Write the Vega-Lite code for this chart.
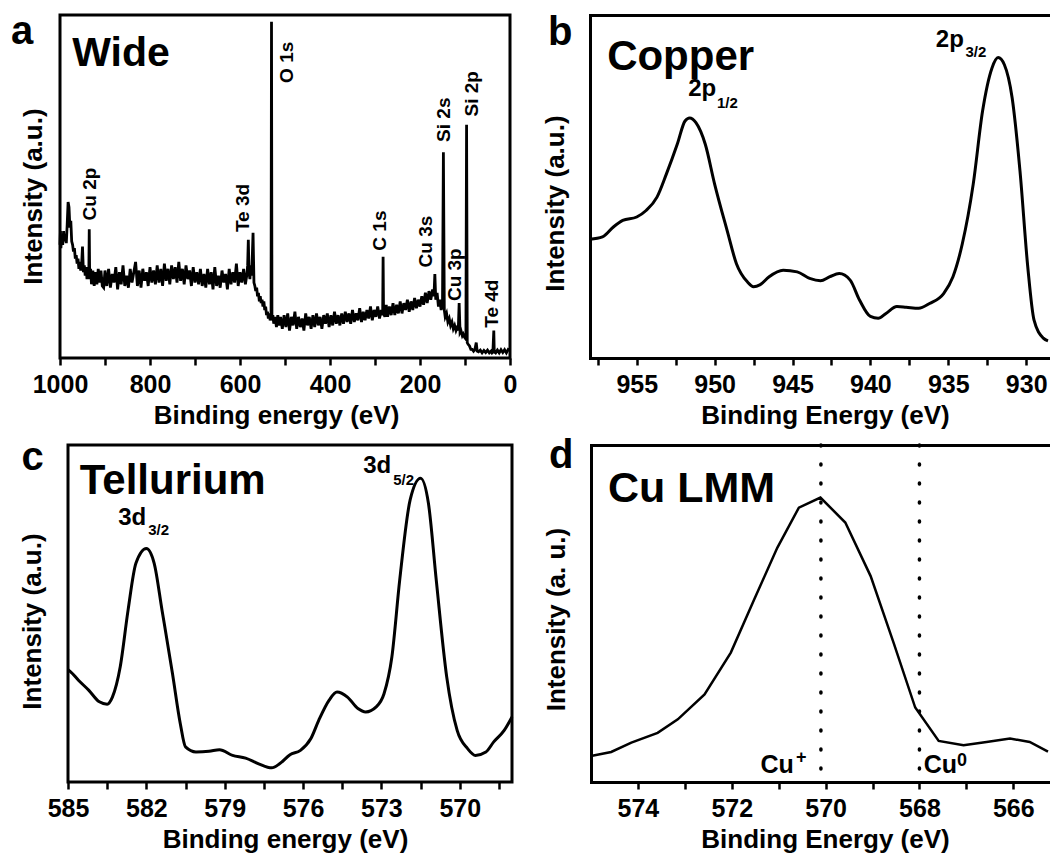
{
"$schema": "https://vega.github.io/schema/vega-lite/v6.json",
"padding": {"left": 9, "top": 10, "right": 0, "bottom": 0},
"background": "white",
"config": {
 "font": "Liberation Sans",
 "view": {"stroke": "black", "strokeWidth": 3},
 "axis": {"grid": false, "labelFont": "Liberation Sans", "labelFontSize": 25, "labelFontWeight": "bold", "labelColor": "black", "labelFlush": false, "labelOverlap": false, "labelPadding": 7, "titleFont": "Liberation Sans", "titleFontSize": 26, "titleFontWeight": "bold", "titleColor": "black", "titlePadding": 5, "tickColor": "black", "tickWidth": 2.5, "tickSize": 7, "domainColor": "black", "domainWidth": 3, "domainCap": "square"},
 "title": {"font": "Liberation Sans", "fontSize": 40, "fontWeight": "bold", "color": "black", "anchor": "start", "frame": "group", "baseline": "alphabetic", "offset": 0}
},
"bounds": "flush",
"spacing": 430,
"vconcat": [
 {"bounds": "flush", "spacing": 80, "hconcat": [
  {"width": 450, "height": 343,
   "title": {"text": "a", "dx": -49, "dy": 41},
   "layer": [
    {"data": {"values": [
{"e":1000,"i":33},{"e":999,"i":37},{"e":998,"i":32},{"e":996,"i":36},{"e":994,"i":33},{"e":992,"i":37},{"e":990,"i":34},{"e":988,"i":36},{"e":986,"i":33.5},{"e":984,"i":39},{"e":982,"i":45.5},{"e":980,"i":44},{"e":978,"i":38},{"e":976,"i":40},{"e":974,"i":34},{"e":972,"i":33},{"e":970,"i":31},{"e":968,"i":32},{"e":966,"i":29},{"e":964,"i":30},{"e":962,"i":27.5},{"e":960,"i":29},{"e":958,"i":26},{"e":956,"i":28},{"e":954,"i":25.5},{"e":952,"i":27},{"e":950,"i":32.5},{"e":948,"i":25},{"e":946,"i":27},{"e":944,"i":24},{"e":942,"i":26.5},{"e":940,"i":23},{"e":938,"i":26},{"e":936,"i":24},{"e":935,"i":37.5},{"e":934,"i":23},{"e":932,"i":26},{"e":930,"i":21.5},{"e":927,"i":25.5},{"e":924,"i":21},{"e":921,"i":25},{"e":918,"i":21.5},{"e":915,"i":26},{"e":912,"i":22},{"e":909,"i":25.5},{"e":906,"i":21},{"e":903,"i":20.5},{"e":900,"i":25.5},{"e":896,"i":21},{"e":892,"i":26},{"e":888,"i":20.5},{"e":884,"i":24.5},{"e":880,"i":22},{"e":876,"i":26.5},{"e":872,"i":20},{"e":868,"i":25},{"e":864,"i":21.5},{"e":860,"i":27},{"e":856,"i":21},{"e":852,"i":24},{"e":848,"i":20.5},{"e":844,"i":26},{"e":840,"i":22},{"e":836,"i":25},{"e":832,"i":28},{"e":828,"i":21},{"e":824,"i":25.5},{"e":820,"i":20.5},{"e":816,"i":26},{"e":812,"i":22.5},{"e":808,"i":25},{"e":804,"i":21},{"e":800,"i":26.5},{"e":796,"i":22},{"e":792,"i":25.5},{"e":788,"i":21.5},{"e":784,"i":27},{"e":780,"i":22},{"e":776,"i":26},{"e":772,"i":21},{"e":768,"i":27.5},{"e":764,"i":22.5},{"e":760,"i":26},{"e":756,"i":21.5},{"e":752,"i":27},{"e":748,"i":23},{"e":744,"i":26.5},{"e":740,"i":22},{"e":736,"i":28},{"e":732,"i":22.5},{"e":728,"i":26},{"e":724,"i":21.5},{"e":720,"i":27},{"e":716,"i":23},{"e":712,"i":25.5},{"e":708,"i":21},{"e":704,"i":26.5},{"e":700,"i":22},{"e":696,"i":25},{"e":692,"i":21.5},{"e":688,"i":26},{"e":684,"i":21},{"e":680,"i":24.5},{"e":676,"i":20.5},{"e":672,"i":26},{"e":668,"i":21.5},{"e":664,"i":25},{"e":660,"i":20},{"e":656,"i":26.5},{"e":652,"i":21},{"e":648,"i":24},{"e":644,"i":20.5},{"e":640,"i":25.5},{"e":636,"i":22},{"e":632,"i":24.5},{"e":628,"i":20},{"e":624,"i":26},{"e":620,"i":21.5},{"e":616,"i":25},{"e":612,"i":22},{"e":608,"i":27.5},{"e":604,"i":21},{"e":600,"i":25},{"e":596,"i":22},{"e":592,"i":26},{"e":588,"i":21.5},{"e":585,"i":24},{"e":583,"i":27},{"e":581.5,"i":34.5},{"e":580,"i":25},{"e":578,"i":23},{"e":576,"i":27},{"e":574,"i":24},{"e":571,"i":36.5},{"e":569,"i":22},{"e":567,"i":21},{"e":565,"i":19.5},{"e":563,"i":20.5},{"e":561,"i":18},{"e":559,"i":19},{"e":557,"i":16.5},{"e":555,"i":18},{"e":553,"i":16},{"e":551,"i":17},{"e":549,"i":15},{"e":547,"i":16.5},{"e":545,"i":14},{"e":543,"i":15},{"e":541,"i":12.5},{"e":539,"i":13.5},{"e":537,"i":11.5},{"e":535,"i":13},{"e":533,"i":11},{"e":531,"i":12},{"e":530,"i":98},{"e":529,"i":11},{"e":527,"i":12.5},{"e":525,"i":10},{"e":522,"i":12},{"e":519,"i":9},{"e":516,"i":12.5},{"e":513,"i":9.5},{"e":510,"i":12},{"e":506,"i":8.5},{"e":502,"i":12.5},{"e":498,"i":9},{"e":494,"i":13},{"e":490,"i":8},{"e":486,"i":12},{"e":482,"i":9.5},{"e":478,"i":13.5},{"e":474,"i":8.5},{"e":470,"i":12},{"e":466,"i":9},{"e":462,"i":11.5},{"e":458,"i":8},{"e":454,"i":13},{"e":450,"i":9.5},{"e":446,"i":12},{"e":442,"i":8.5},{"e":438,"i":12.5},{"e":434,"i":9},{"e":430,"i":13},{"e":426,"i":9.5},{"e":422,"i":12},{"e":418,"i":8.5},{"e":414,"i":12.5},{"e":410,"i":10},{"e":406,"i":13},{"e":402,"i":9},{"e":398,"i":12.5},{"e":394,"i":9.5},{"e":390,"i":13.5},{"e":386,"i":10},{"e":382,"i":12.5},{"e":378,"i":9.5},{"e":374,"i":13},{"e":370,"i":10},{"e":366,"i":13.5},{"e":362,"i":10.5},{"e":358,"i":13},{"e":354,"i":10},{"e":350,"i":14},{"e":346,"i":10.5},{"e":342,"i":13},{"e":338,"i":11},{"e":334,"i":14.5},{"e":330,"i":10.5},{"e":326,"i":13.5},{"e":322,"i":11},{"e":318,"i":14},{"e":314,"i":11.5},{"e":310,"i":15},{"e":306,"i":11},{"e":302,"i":14},{"e":298,"i":12},{"e":294,"i":15},{"e":290,"i":11.5},{"e":286,"i":14},{"e":283,"i":12.5},{"e":282,"i":29.5},{"e":281,"i":13},{"e":278,"i":12},{"e":275,"i":15.5},{"e":272,"i":12},{"e":268,"i":15},{"e":264,"i":12.5},{"e":260,"i":16},{"e":256,"i":12.5},{"e":252,"i":15.5},{"e":248,"i":13},{"e":244,"i":16.5},{"e":240,"i":13},{"e":236,"i":16},{"e":232,"i":14},{"e":228,"i":17},{"e":224,"i":13.5},{"e":220,"i":16.5},{"e":216,"i":14},{"e":212,"i":17.5},{"e":208,"i":14.5},{"e":204,"i":17},{"e":200,"i":15},{"e":196,"i":18},{"e":192,"i":15.5},{"e":188,"i":19},{"e":184,"i":16},{"e":180,"i":19.5},{"e":176,"i":17},{"e":172,"i":20},{"e":169,"i":18},{"e":167,"i":24.5},{"e":165,"i":17},{"e":162,"i":19},{"e":159,"i":15},{"e":156,"i":17},{"e":153,"i":14},{"e":150,"i":15.5},{"e":148,"i":60},{"e":146,"i":14},{"e":144,"i":12},{"e":141,"i":13},{"e":138,"i":10.5},{"e":135,"i":11.5},{"e":132,"i":9.5},{"e":129,"i":10.5},{"e":126,"i":8.5},{"e":123,"i":9.5},{"e":120,"i":8},{"e":117,"i":9},{"e":115,"i":8},{"e":113,"i":16},{"e":111,"i":7.5},{"e":109,"i":8},{"e":106,"i":6.5},{"e":104,"i":7},{"e":101,"i":6},{"e":98,"i":5.5},{"e":96.5,"i":68},{"e":95,"i":4.5},{"e":93,"i":4},{"e":90,"i":3.5},{"e":87,"i":2.5},{"e":84,"i":2.5},{"e":81,"i":2},{"e":78,"i":2.5},{"e":75,"i":4.5},{"e":73,"i":2},{"e":70,"i":1.8},{"e":66,"i":2.3},{"e":62,"i":1.5},{"e":58,"i":2.2},{"e":54,"i":1.6},{"e":50,"i":2.3},{"e":46,"i":1.5},{"e":42,"i":2},{"e":40,"i":1.5},{"e":38,"i":1.8},{"e":36,"i":8},{"e":35,"i":1.8},{"e":32,"i":1.5},{"e":28,"i":2.3},{"e":24,"i":1.5},{"e":20,"i":2.4},{"e":16,"i":1.6},{"e":12,"i":2.4},{"e":8,"i":1.5},{"e":4,"i":2.5},{"e":0,"i":2.2}
    ]},
     "mark": {"type": "line", "color": "black", "strokeWidth": 2.8},
     "encoding": {
      "x": {"field": "e", "type": "quantitative", "scale": {"domain": [0, 1000], "reverse": true, "nice": false, "zero": false},
            "axis": {"title": "Binding energy (eV)", "domain": false, "values": [0,100,200,300,400,500,600,700,800,900,1000], "labelExpr": "datum.value % 200 === 0 ? datum.label : ''", "format": "d", "titleX": 216}},
      "y": {"field": "i", "type": "quantitative", "scale": {"domain": [0, 100], "nice": false, "zero": false},
            "axis": {"title": "Intensity (a.u.)", "labels": false, "ticks": false, "domain": false, "titlePadding": 14, "titleY": 181}}
     }},
    {"data": {"values": [{"e": 973, "i": 85, "t": "Wide"}]},
     "mark": {"type": "text", "fontSize": 41, "fontWeight": "bold", "align": "left", "baseline": "alphabetic", "color": "black"},
     "encoding": {"x": {"field": "e", "type": "quantitative"}, "y": {"field": "i", "type": "quantitative"}, "text": {"field": "t"}}},
    {"data": {"values": [
      {"e": 933.3, "i": 40.1, "t": "Cu 2p"},
      {"e": 592.6, "i": 36.7, "t": "Te 3d"},
      {"e": 496.3, "i": 80.2, "t": "O 1s"},
      {"e": 288.9, "i": 31.3, "t": "C 1s"},
      {"e": 185.9, "i": 26.4, "t": "Cu 3s"},
      {"e": 146.7, "i": 63.0, "t": "Si 2s"},
      {"e": 122.2, "i": 16.6, "t": "Cu 3p"},
      {"e": 83.7, "i": 70.4, "t": "Si 2p"},
      {"e": 39.3, "i": 8.8, "t": "Te 4d"}
     ]},
     "mark": {"type": "text", "angle": 270, "fontSize": 19, "fontWeight": "bold", "align": "left", "baseline": "middle", "color": "black"},
     "encoding": {"x": {"field": "e", "type": "quantitative"}, "y": {"field": "i", "type": "quantitative"}, "text": {"field": "t"}}}
   ]},
  {"width": 458, "height": 343,
   "view": {"stroke": null},
   "title": {"text": "b", "dx": -42, "dy": 42},
   "resolve": {"axis": {"x": "independent"}},
   "layer": [
    {"data": {"values": [
{"e":958.0,"i":34.6},{"e":957.2,"i":35.3},{"e":956.5,"i":38.2},{"e":955.9,"i":40.1},{"e":955.0,"i":41.1},{"e":954.4,"i":43.0},{"e":953.7,"i":46.9},{"e":953.1,"i":53.6},{"e":952.4,"i":62.3},{"e":951.9,"i":69.1},{"e":951.6,"i":70.0},{"e":951.2,"i":68.6},{"e":950.6,"i":62.3},{"e":950.0,"i":50.7},{"e":949.2,"i":37.2},{"e":948.6,"i":27.5},{"e":947.9,"i":22.2},{"e":947.5,"i":20.8},{"e":947.1,"i":21.3},{"e":946.5,"i":23.7},{"e":945.6,"i":25.6},{"e":944.7,"i":25.1},{"e":943.9,"i":23.2},{"e":943.2,"i":22.5},{"e":942.6,"i":23.7},{"e":942.0,"i":24.6},{"e":941.3,"i":22.7},{"e":940.7,"i":16.9},{"e":940.0,"i":12.1},{"e":939.5,"i":11.6},{"e":939.0,"i":13.0},{"e":938.3,"i":15.0},{"e":937.7,"i":14.8},{"e":936.9,"i":14.5},{"e":936.2,"i":15.9},{"e":935.3,"i":18.8},{"e":934.7,"i":23.7},{"e":934.1,"i":33.3},{"e":933.4,"i":50.7},{"e":932.8,"i":72.0},{"e":932.2,"i":84.5},{"e":931.8,"i":87.6},{"e":931.4,"i":85.5},{"e":930.9,"i":75.8},{"e":930.4,"i":54.6},{"e":929.9,"i":26.6},{"e":929.5,"i":11.1},{"e":928.9,"i":5.8},{"e":928.6,"i":5.0}
    ]},
     "mark": {"type": "line", "color": "black", "strokeWidth": 3, "interpolate": "monotone"},
     "encoding": {
      "x": {"field": "e", "type": "quantitative", "scale": {"domain": [928.6, 958], "reverse": true, "nice": false, "zero": false},
            "axis": {"title": "Binding Energy (eV)", "domain": true, "values": [930,932.5,935,937.5,940,942.5,945,947.5,950,952.5,955,957.5], "labelExpr": "datum.value % 5 === 0 ? datum.label : ''", "titleX": 235}},
      "y": {"field": "i", "type": "quantitative", "scale": {"domain": [0, 100], "nice": false, "zero": false},
            "axis": {"title": "Intensity (a.u.)", "labels": false, "ticks": false, "domain": true, "titlePadding": 22, "titleY": 188}}
     }},
    {"data": {"values": [{"e": 956.9, "i": 84.1, "t": "Copper"}]},
     "mark": {"type": "text", "fontSize": 42, "fontWeight": "bold", "align": "left", "baseline": "alphabetic", "color": "black"},
     "encoding": {"x": {"field": "e", "type": "quantitative", "axis": {"orient": "top", "labels": false, "ticks": false, "domain": true, "title": null}}, "y": {"field": "i", "type": "quantitative"}, "text": {"field": "t"}}},
    {"data": {"values": [{"e": 951.7, "i": 76.3, "t": "2p"}, {"e": 935.8, "i": 90.8, "t": "2p"}]},
     "mark": {"type": "text", "fontSize": 24, "fontWeight": "bold", "align": "left", "baseline": "alphabetic", "color": "black"},
     "encoding": {"x": {"field": "e", "type": "quantitative", "axis": null}, "y": {"field": "i", "type": "quantitative"}, "text": {"field": "t"}}},
    {"data": {"values": [{"e": 949.85, "i": 72.8, "t": "1/2"}, {"e": 933.9, "i": 87.9, "t": "3/2"}]},
     "mark": {"type": "text", "fontSize": 15, "fontWeight": "bold", "align": "left", "baseline": "alphabetic", "color": "black"},
     "encoding": {"x": {"field": "e", "type": "quantitative", "axis": null}, "y": {"field": "i", "type": "quantitative"}, "text": {"field": "t"}}}
   ]}
 ]},
 {"bounds": "flush", "spacing": 531, "hconcat": [
  {"bounds": "flush", "spacing": 7, "hconcat": [
   {"width": 1, "height": 337, "view": {"stroke": null},
    "data": {"values": [{"e": 0}]},
    "mark": {"type": "point", "opacity": 0},
    "encoding": {}},
   {"width": 444, "height": 337,
    "title": {"text": "c", "dx": -46.5, "dy": 37},
    "layer": [
     {"data": {"values": [
{"e":585.0,"i":33.3},{"e":584.9,"i":32.7},{"e":584.6,"i":30.2},{"e":584.2,"i":27.2},{"e":583.8,"i":23.8},{"e":583.5,"i":23.1},{"e":583.3,"i":25.2},{"e":583.0,"i":34.2},{"e":582.7,"i":51.0},{"e":582.4,"i":64.9},{"e":582.0,"i":69.3},{"e":581.7,"i":64.9},{"e":581.4,"i":51.0},{"e":581.0,"i":32.2},{"e":580.7,"i":17.3},{"e":580.5,"i":10.4},{"e":580.1,"i":8.9},{"e":579.6,"i":9.1},{"e":579.2,"i":9.6},{"e":578.7,"i":7.9},{"e":578.2,"i":7.1},{"e":577.7,"i":5.4},{"e":577.2,"i":4.2},{"e":576.9,"i":5.4},{"e":576.5,"i":8.1},{"e":576.1,"i":9.4},{"e":575.7,"i":12.9},{"e":575.4,"i":18.3},{"e":575.0,"i":24.3},{"e":574.7,"i":26.7},{"e":574.3,"i":25.2},{"e":573.9,"i":21.8},{"e":573.6,"i":20.8},{"e":573.2,"i":22.3},{"e":572.9,"i":26.2},{"e":572.6,"i":37.1},{"e":572.3,"i":59.9},{"e":571.9,"i":83.7},{"e":571.5,"i":90.1},{"e":571.2,"i":82.7},{"e":570.9,"i":59.9},{"e":570.5,"i":31.2},{"e":570.1,"i":15.3},{"e":569.7,"i":9.9},{"e":569.4,"i":7.9},{"e":569.0,"i":8.9},{"e":568.7,"i":11.9},{"e":568.3,"i":15.3},{"e":568.0,"i":19.3}
     ]},
      "mark": {"type": "line", "color": "black", "strokeWidth": 3, "interpolate": "monotone"},
      "encoding": {
       "x": {"field": "e", "type": "quantitative", "scale": {"domain": [568, 585], "reverse": true, "nice": false, "zero": false},
             "axis": {"title": "Binding energy (eV)", "domain": false, "values": [568.5,570,571.5,573,574.5,576,577.5,579,580.5,582,583.5,585], "labelExpr": "(585 - datum.value) % 3 === 0 ? datum.label : ''", "titleX": 217}},
       "y": {"field": "i", "type": "quantitative", "scale": {"domain": [0, 100], "nice": false, "zero": false},
             "axis": {"title": "Intensity (a.u.)", "labels": false, "ticks": false, "domain": false, "titlePadding": 23, "titleY": 176}}
      }},
     {"data": {"values": [{"e": 584.55, "i": 85.6, "t": "Tellurium"}]},
      "mark": {"type": "text", "fontSize": 42, "fontWeight": "bold", "align": "left", "baseline": "alphabetic", "color": "black"},
      "encoding": {"x": {"field": "e", "type": "quantitative"}, "y": {"field": "i", "type": "quantitative"}, "text": {"field": "t"}}},
     {"data": {"values": [{"e": 583.08, "i": 76.4, "t": "3d"}, {"e": 573.7, "i": 91.6, "t": "3d"}]},
      "mark": {"type": "text", "fontSize": 24, "fontWeight": "bold", "align": "left", "baseline": "alphabetic", "color": "black"},
      "encoding": {"x": {"field": "e", "type": "quantitative"}, "y": {"field": "i", "type": "quantitative"}, "text": {"field": "t"}}},
     {"data": {"values": [{"e": 581.93, "i": 73.3, "t": "3/2"}, {"e": 572.55, "i": 88.1, "t": "5/2"}]},
      "mark": {"type": "text", "fontSize": 15, "fontWeight": "bold", "align": "left", "baseline": "alphabetic", "color": "black"},
      "encoding": {"x": {"field": "e", "type": "quantitative"}, "y": {"field": "i", "type": "quantitative"}, "text": {"field": "t"}}}
    ]}
  ]},
  {"width": 457, "height": 337,
   "view": {"stroke": null},
   "title": {"text": "d", "dx": -42, "dy": 37},
   "resolve": {"axis": {"x": "independent"}},
   "layer": [
    {"data": {"values": [
{"e":575.0,"i":7.7},{"e":574.57,"i":8.9},{"e":574.14,"i":11.7},{"e":573.58,"i":14.6},{"e":573.15,"i":18.6},{"e":572.58,"i":26.0},{"e":572.02,"i":38.4},{"e":571.52,"i":54.2},{"e":571.03,"i":69.5},{"e":570.57,"i":81.4},{"e":570.11,"i":84.4},{"e":569.58,"i":77.0},{"e":569.04,"i":61.1},{"e":568.55,"i":41.3},{"e":568.09,"i":22.1},{"e":567.59,"i":12.2},{"e":567.06,"i":10.9},{"e":566.57,"i":11.9},{"e":566.07,"i":12.9},{"e":565.65,"i":11.9},{"e":565.26,"i":9.0}
    ]},
     "mark": {"type": "line", "color": "black", "strokeWidth": 2.5},
     "encoding": {
      "x": {"field": "e", "type": "quantitative", "scale": {"domain": [565.26, 575], "reverse": true, "nice": false, "zero": false},
            "axis": {"title": "Binding Energy (eV)", "domain": true, "values": [566,567,568,569,570,571,572,573,574], "labelExpr": "datum.value % 2 === 0 ? datum.label : ''", "titleX": 234}},
      "y": {"field": "i", "type": "quantitative", "scale": {"domain": [0, 100], "nice": false, "zero": false},
            "axis": {"title": "Intensity (a. u.)", "labels": false, "ticks": false, "domain": true, "titlePadding": 22, "titleY": 174}}
     }},
    {"data": {"values": [{"e": 570.1}, {"e": 568.0}]},
     "mark": {"type": "rule", "color": "black", "strokeWidth": 3.5, "strokeDash": [1, 18], "strokeCap": "round"},
     "encoding": {"x": {"field": "e", "type": "quantitative", "axis": null}}},
    {"data": {"values": [{"e": 574.64, "i": 83.1, "t": "Cu LMM"}]},
     "mark": {"type": "text", "fontSize": 43, "fontWeight": "bold", "align": "left", "baseline": "alphabetic", "color": "black"},
     "encoding": {"x": {"field": "e", "type": "quantitative", "axis": {"orient": "top", "labels": false, "ticks": false, "domain": true, "title": null}}, "y": {"field": "i", "type": "quantitative"}, "text": {"field": "t"}}},
    {"data": {"values": [{"e": 571.39, "i": 2.8, "t": "Cu"}, {"e": 567.91, "i": 2.8, "t": "Cu"}]},
     "mark": {"type": "text", "fontSize": 25, "fontWeight": "bold", "align": "left", "baseline": "alphabetic", "color": "black"},
     "encoding": {"x": {"field": "e", "type": "quantitative", "axis": null}, "y": {"field": "i", "type": "quantitative"}, "text": {"field": "t"}}},
    {"data": {"values": [{"e": 570.63, "i": 5.7, "t": "+"}, {"e": 567.2, "i": 4.7, "t": "0"}]},
     "mark": {"type": "text", "fontSize": 18, "fontWeight": "bold", "align": "left", "baseline": "alphabetic", "color": "black"},
     "encoding": {"x": {"field": "e", "type": "quantitative", "axis": null}, "y": {"field": "i", "type": "quantitative"}, "text": {"field": "t"}}}
   ]}
 ]}
]
}
